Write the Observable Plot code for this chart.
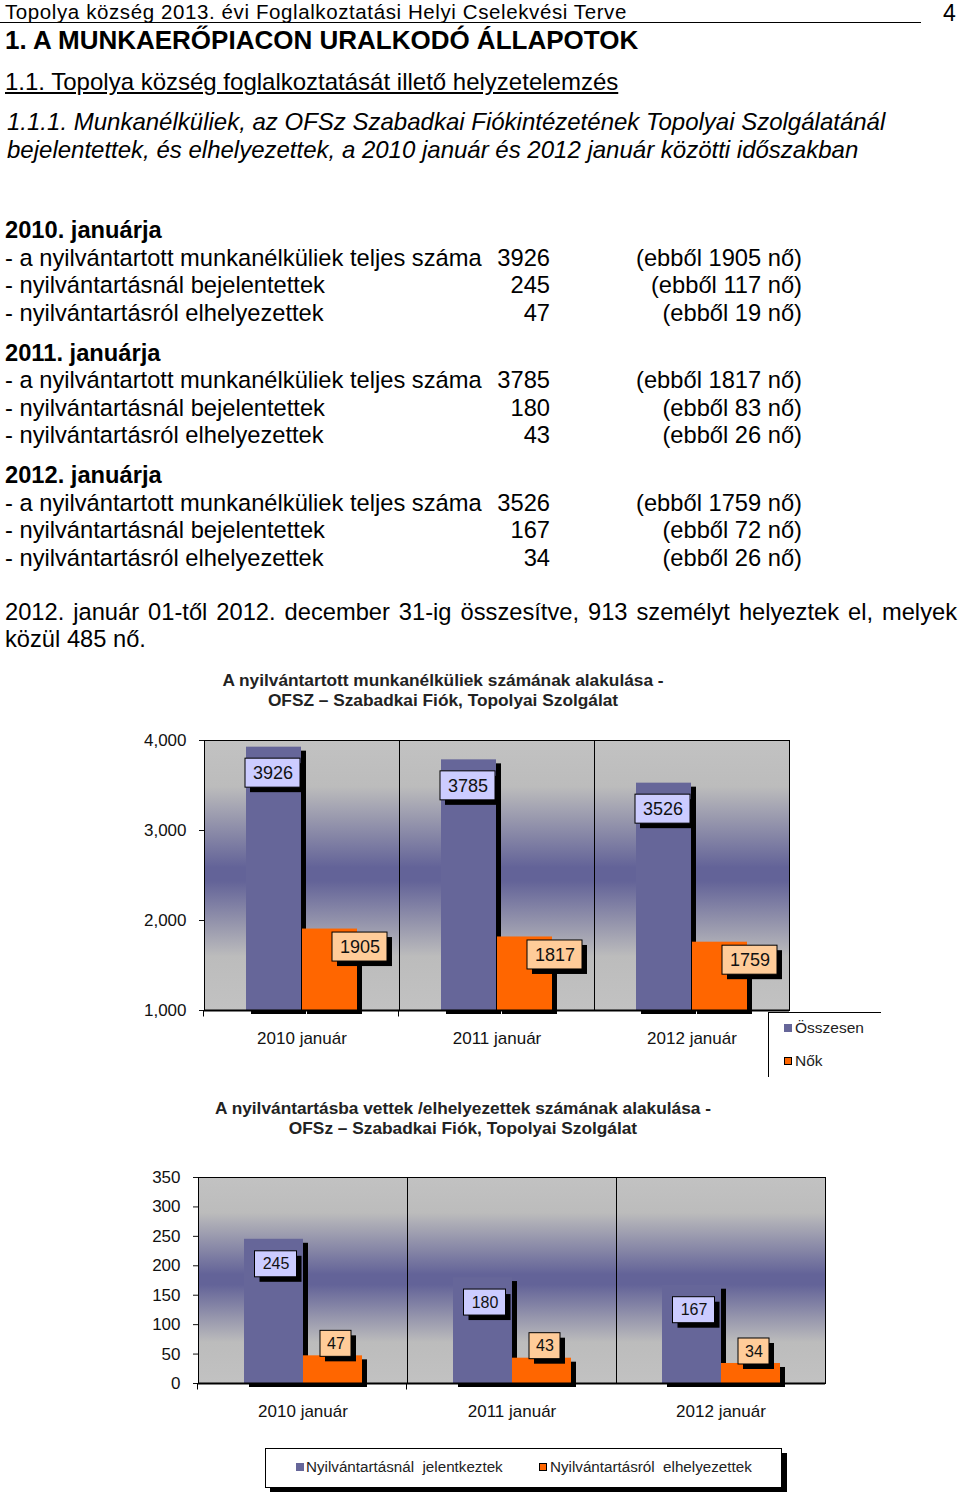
<!DOCTYPE html>
<html><head><meta charset="utf-8">
<script src="https://cdn.jsdelivr.net/npm/d3@7"></script>
<script src="https://cdn.jsdelivr.net/npm/@observablehq/plot@0.6"></script>
<style>
body{margin:0;background:#fff;}
#page{position:relative;width:960px;height:1492px;overflow:hidden;font-family:"Liberation Sans",Arial,sans-serif;color:#000;}
.t{position:absolute;white-space:pre;}
svg{position:absolute;left:0;}
</style></head><body><div id="page"></div>
<script>
// ---- chart data ----
const years = ["2010 január", "2011 január", "2012 január"];
const totalUnemployed = [3926, 3785, 3526];
const totalWomen = [1905, 1817, 1759];
const registered = [245, 180, 167];
const placed = [47, 43, 34];
const series1 = ["Összesen", "Nők"];
const series2 = ["Nyilvántartásnál  jelentkeztek", "Nyilvántartásról  elhelyezettek"];
const ticks1 = [1000, 2000, 3000, 4000];
const ticks2 = [0, 50, 100, 150, 200, 250, 300, 350];
const title1 = ["A nyilvántartott munkanélküliek számának alakulása -", "OFSZ – Szabadkai Fiók, Topolyai Szolgálat"];
const title2 = ["A nyilvántartásba vettek /elhelyezettek számának alakulása -", "OFSz – Szabadkai Fiók, Topolyai Szolgálat"];

// ---- document text data ----
const headerText = "Topolya község 2013. évi Foglalkoztatási Helyi Cselekvési Terve";
const pageNo = "4";
const heading1 = "1. A MUNKAERŐPIACON URALKODÓ ÁLLAPOTOK";
const heading2 = "1.1. Topolya község foglalkoztatását illető helyzetelemzés";
const heading3 = ["1.1.1. Munkanélküliek, az OFSz Szabadkai Fiókintézetének Topolyai Szolgálatánál",
                  "bejelentettek, és elhelyezettek, a 2010 január és 2012 január közötti időszakban"];
const periods = ["2010. januárja", "2011. januárja", "2012. januárja"];
const rowLabels = ["- a nyilvántartott munkanélküliek teljes száma", "- nyilvántartásnál bejelentettek", "- nyilvántartásról elhelyezettek"];
const rowValues = [[3926, 245, 47], [3785, 180, 43], [3526, 167, 34]];
const rowWomen = [[1905, 117, 19], [1817, 83, 26], [1759, 72, 26]];
const paragraph = ["2012. január 01-től 2012. december 31-ig összesítve, 913 személyt helyeztek el, melyek", "közül 485 nő."];

const page = document.getElementById("page");
function txt(str, x, cy, o = {}) {
  const d = document.createElement("div");
  d.className = "t";
  const size = o.size || 22, lh = o.lh || 28;
  d.textContent = str;
  d.style.fontSize = size + "px";
  d.style.lineHeight = lh + "px";
  d.style.top = (cy - lh / 2) + "px";
  if (o.weight) d.style.fontWeight = o.weight;
  if (o.italic) d.style.fontStyle = "italic";
  if (o.underline) d.style.textDecoration = "underline";
  if (o.color) d.style.color = o.color;
  if (o.ls) d.style.letterSpacing = o.ls + "px";
  const anchor = o.anchor || "start";
  if (anchor === "start") { d.style.left = x + "px"; }
  else if (anchor === "end") { d.style.left = (x - 700) + "px"; d.style.width = "700px"; d.style.textAlign = "right"; }
  else { d.style.left = (x - 480) + "px"; d.style.width = "960px"; d.style.textAlign = "center"; }
  if (o.justify) { d.style.left = x + "px"; d.style.width = o.justify + "px"; d.style.whiteSpace = "normal"; d.style.textAlign = "justify"; d.style.textAlignLast = "justify"; }
  page.appendChild(d);
  return d;
}

const BODY = 23.7;
// header
txt(headerText, 5, 11.5, {size: 20.5, lh: 23, ls: 0.6});
const rule = document.createElement("div");
Object.assign(rule.style, {position: "absolute", left: "0px", top: "22px", width: "921px", height: "1px", background: "#000"});
page.appendChild(rule);
txt(pageNo, 943, 13, {size: 23, lh: 24});
txt(heading1, 5, 40, {size: 26, weight: "bold", lh: 30});
txt(heading2, 5, 82, {size: 24, underline: true});
txt(heading3[0], 7, 122, {size: 24, italic: true});
txt(heading3[1], 7, 150, {size: 24, italic: true});

periods.forEach((p, i) => {
  const cy0 = 230 + 122.5 * i;
  txt(p, 5, cy0, {size: BODY, weight: "bold"});
  rowLabels.forEach((lab, j) => {
    const cy = cy0 + 27.5 * (j + 1);
    txt(lab, 5, cy, {size: BODY});
    txt(String(rowValues[i][j]), 550, cy, {size: BODY, anchor: "end"});
    txt(`(ebből ${rowWomen[i][j]} nő)`, 802, cy, {size: BODY, anchor: "end"});
  });
});
txt(paragraph[0], 5, 612, {size: BODY, justify: 952});
txt(paragraph[1], 5, 639, {size: BODY});

// chart titles
const chartFont = "'Liberation Sans', Arial, sans-serif";
const TT = 17.3;
txt(title1[0], 443, 680, {size: TT, weight: "bold", anchor: "middle", lh: 20, color: "#222"});
txt(title1[1], 443, 700, {size: TT, weight: "bold", anchor: "middle", lh: 20, color: "#222"});
txt(title2[0], 463, 1108, {size: TT, weight: "bold", anchor: "middle", lh: 20, color: "#222"});
txt(title2[1], 463, 1128, {size: TT, weight: "bold", anchor: "middle", lh: 20, color: "#222"});

function makeChart(cfg) {
  const rows = years.flatMap((y, i) => [
    {year: y, series: cfg.series[0], value: cfg.a[i]},
    {year: y, series: cfg.series[1], value: cfg.b[i]}
  ]);
  const labelMarks = cfg.series.flatMap((s, k) => {
    const sub = rows.filter(d => d.series === s);
    const L = cfg.labels[k];
    const common = {fx: "year", x: "series", y1: "value", y2: "value",
      insetLeft: L.inset, insetRight: L.inset, insetTop: -L.h / 2, insetBottom: -L.h / 2};
    return [
      Plot.barY(sub, {...common, fill: "black", dx: L.dx + 5, dy: L.dy + 5}),
      Plot.barY(sub, {...common, fill: L.fill, stroke: "black", strokeWidth: 1, dx: L.dx, dy: L.dy}),
      Plot.text(sub, {fx: "year", x: "series", y: "value", text: d => String(d.value),
        dx: L.dx, dy: L.dy, fontSize: cfg.labelSize, fill: "#111"})
    ];
  });
  const svg = Plot.plot({
    width: 960, height: cfg.height,
    marginLeft: cfg.ml, marginRight: cfg.mr, marginTop: cfg.mt, marginBottom: cfg.mb,
    style: {fontFamily: chartFont, fontSize: "17px", color: "#111", background: "transparent", overflow: "visible"},
    fx: {domain: years, padding: 0, axis: "bottom", tickSize: 0, tickPadding: 21, label: null},
    x: {domain: cfg.series, paddingInner: cfg.pi, paddingOuter: cfg.po, axis: null},
    y: {domain: cfg.yDomain, ticks: cfg.ticks, tickFormat: cfg.tickFormat, clamp: true, label: null,
        tickSize: 5, tickPadding: cfg.tp},
    color: {domain: cfg.series, range: ["#666699", "#ff6600"]},
    marks: [
      Plot.frame({fill: `url(#${cfg.id})`, stroke: "black", strokeWidth: 1}),
      Plot.barY(rows, {fx: "year", x: "series", y: "value", fill: "black", dx: 5, dy: 4}),
      Plot.barY(rows, {fx: "year", x: "series", y: "value", fill: "series"}),
      Plot.ruleY([cfg.yDomain[0]], {stroke: "black", strokeWidth: 2}),
      ...labelMarks
    ]
  });
  const ns = "http://www.w3.org/2000/svg";
  const defs = document.createElementNS(ns, "defs");
  defs.innerHTML = `<linearGradient id="${cfg.id}" x1="0" y1="0" x2="0" y2="1">
    <stop offset="0" stop-color="#c2c2c2"/><stop offset="0.17" stop-color="#bcbcbc"/>
    <stop offset="0.47" stop-color="#636398"/><stop offset="0.52" stop-color="#636398"/>
    <stop offset="0.8" stop-color="#bcbcbc"/><stop offset="1" stop-color="#c2c2c2"/></linearGradient>`;
  svg.insertBefore(defs, svg.firstChild);
  // small category-boundary ticks below each facet frame (derived from the rendered frames)
  svg.querySelectorAll('[aria-label="frame"]').forEach(el => {
    const r = el.tagName.toLowerCase() === "rect" ? el : el.querySelector("rect");
    if (!r) return;
    const x = +r.getAttribute("x") || 0, y = +r.getAttribute("y") || 0;
    const w = +r.getAttribute("width"), h = +r.getAttribute("height");
    [x, x + w].forEach(xx => {
      const ln = document.createElementNS(ns, "line");
      ln.setAttribute("x1", xx); ln.setAttribute("x2", xx);
      ln.setAttribute("y1", y + h); ln.setAttribute("y2", y + h + 6);
      ln.setAttribute("stroke", "black");
      r.parentNode.appendChild(ln);
    });
  });
  svg.style.top = cfg.top + "px";
  page.appendChild(svg);
}

makeChart({
  id: "bg1", series: series1, a: totalUnemployed, b: totalWomen,
  top: 720, height: 340, ml: 203, mr: 170, mt: 20, mb: 50,
  pi: 0.0175, po: 0.737, yDomain: [1000, 4000], ticks: ticks1, tickFormat: d3.format(","), tp: 13,
  labelSize: 18,
  labels: [{fill: "#ccccff", dx: -1, dy: 26, h: 29, inset: 0},
           {fill: "#ffcc99", dx: 30, dy: 18, h: 29, inset: 0}]
});
makeChart({
  id: "bg2", series: series2, a: registered, b: placed,
  top: 1160, height: 263, ml: 197, mr: 134, mt: 17, mb: 40,
  pi: 0, po: 0.75, yDomain: [0, 350], ticks: ticks2, tickFormat: d3.format("d"), tp: 13,
  labelSize: 16,
  labels: [{fill: "#ccccff", dx: 2, dy: 25, h: 26, inset: 8.5},
           {fill: "#ffcc99", dx: 3, dy: -12, h: 26, inset: 14}]
});

// legends
function swatch(x, cy, color, border) {
  const s = document.createElement("div");
  Object.assign(s.style, {position: "absolute", left: x + "px", top: (cy - 4) + "px", width: "8px", height: "8px",
    background: color, boxSizing: "border-box", border: border ? "1px solid #000" : "none"});
  page.appendChild(s);
}
const leg1 = document.createElement("div");
Object.assign(leg1.style, {position: "absolute", left: "768px", top: "1012px", width: "112px", height: "64px",
  borderLeft: "1px solid #000", borderTop: "1px solid #000"});
page.appendChild(leg1);
swatch(784, 1028, "#666699", false);
txt(series1[0], 795, 1028, {size: 15.5, lh: 20, color: "#222"});
swatch(784, 1061, "#ff6600", true);
txt(series1[1], 795, 1061, {size: 15.5, lh: 20, color: "#222"});

const leg2 = document.createElement("div");
Object.assign(leg2.style, {position: "absolute", left: "265px", top: "1448px", width: "515px", height: "38px",
  border: "1px solid #000", background: "#fff", boxShadow: "5px 5px 0 #000"});
page.appendChild(leg2);
swatch(296, 1467, "#666699", false);
txt(series2[0], 306, 1467, {size: 15.2, lh: 20, color: "#222"});
swatch(539, 1467, "#ff6600", true);
txt(series2[1], 550, 1467, {size: 15.2, lh: 20, color: "#222"});
</script></body></html>
